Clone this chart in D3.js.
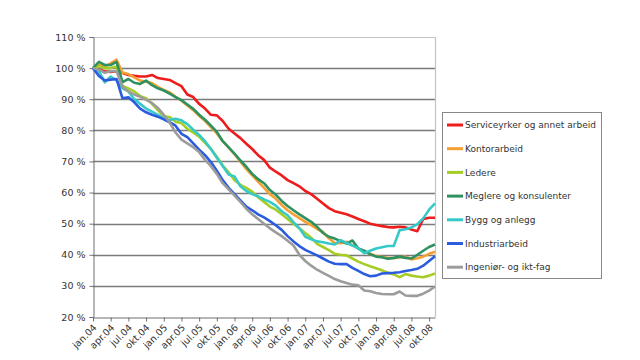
<!DOCTYPE html>
<html><head><meta charset="utf-8">
<script src="https://cdn.jsdelivr.net/npm/d3@7"></script>
<style>
html,body{margin:0;padding:0;background:#fff;}
svg{display:block;font-family:"DejaVu Sans",Verdana,sans-serif;}
</style></head>
<body><svg id="c" width="640" height="360"></svg>
<script>
const categories = [
"jan.04","feb.04","mar.04","apr.04","mai.04","jun.04","jul.04","aug.04","sep.04","okt.04","nov.04","des.04",
"jan.05","feb.05","mar.05","apr.05","mai.05","jun.05","jul.05","aug.05","sep.05","okt.05","nov.05","des.05",
"jan.06","feb.06","mar.06","apr.06","mai.06","jun.06","jul.06","aug.06","sep.06","okt.06","nov.06","des.06",
"jan.07","feb.07","mar.07","apr.07","mai.07","jun.07","jul.07","aug.07","sep.07","okt.07","nov.07","des.07",
"jan.08","feb.08","mar.08","apr.08","mai.08","jun.08","jul.08","aug.08","sep.08","okt.08","nov.08"];

const yTicks = [20,30,40,50,60,70,80,90,100,110];

const seriesNames = ["Serviceyrker og annet arbeid","Kontorarbeid","Ledere","Meglere og konsulenter","Bygg og anlegg","Industriarbeid","Ingeniør- og ikt-fag"];

const service = [100,99.5,99,98.8,99,98.4,97.8,97.5,97.3,97.3,97.8,96.8,96.5,96.2,95.2,94.2,91.5,90.7,88.5,87,85,84.8,83,80.5,79,77.5,75.7,74,72,70.5,68,66.7,65.5,64,63,62,60.5,59.5,58,56.5,55,54,53.5,53,52.3,51.5,50.8,50,49.6,49.2,48.9,48.8,49,48.8,48.1,47.6,51.5,51.9,51.9];
const kontor = [100,101,100.5,101.5,102.7,98.6,98.1,97,96,95.6,95.2,94,93,92.2,90.8,89.5,88,86.5,84.7,83,81,79,76.5,74.5,72.3,70,67.5,65.5,63.5,61.5,59.5,58,56,54.3,53,51.8,50.6,49.5,48.3,47.4,45.3,43.8,43.7,44.2,43,42,41,40.3,39.6,39.3,39,38.9,39.2,39.4,38.5,38.9,39.4,40.3,41];
const ledere = [100,100.5,100,100,100.5,94.3,93.5,92.5,91,90.3,88.5,86.5,84.5,84.3,82.8,82.3,80.5,79.3,78,76,74,71.5,68.7,66.5,64,62.5,61.5,60.3,58.5,57,55.5,54.5,53,51.5,50,48.5,47,45.5,43.5,42.5,41.5,40.3,40,39.8,38.8,37.8,37,36.3,35.7,35,34.2,33.7,32.8,33.8,33.3,33,32.8,33.3,34];
const meglere = [100,102,101,101,102,95.5,96.5,95.3,94.9,96,94.5,93.5,92.8,91.8,90.7,89.7,88.3,86.9,85,83.4,81.5,79.5,76.5,74.5,72.5,70.3,68.3,66,64.3,63,60.8,59.3,57.3,55.7,54.3,53,51.8,50.6,49,47,45.8,45.2,44.4,43.6,44.6,42,41.3,40.2,39.4,39.2,38.7,39,39.4,39,38.8,40,41.3,42.5,43.3];
const bygg = [100,99,95.4,97.3,96,93.5,92.5,90,88.5,87,86,85,83.8,83.3,83.7,83.2,82,80.2,78.5,76.5,74,71.2,68.5,65.8,65.2,62,60.5,59.5,58.8,57.8,57,55.8,54,52.7,50.5,48.5,45.8,45,44.3,44,43.6,43.3,44.7,43.8,43,42.1,40.5,41.3,42,42.4,42.8,42.8,47.9,48.2,48.8,49.8,51.7,54.5,56.5];
const industri = [100,97.5,96,96.3,96.5,90.3,90.6,89,87,85.8,85,84.4,83.5,82.6,81.5,78.9,77.8,75.8,73.8,72,69.8,67,64,61.5,59.5,57.5,55.5,54.3,53,52,50.8,49.5,48,46,44.3,42.8,41.6,40.7,39.8,38.8,37.8,37.1,37,37,35.8,34.8,33.8,33.1,33.3,34,34.1,34.2,34.4,34.8,35.1,35.5,36.5,38,39.5];
const ingenior = [100,99.5,98.5,99,99,94,92.5,91.5,90.8,89.8,88.8,87.2,85,82.5,79.3,77,75.8,74.6,73,70.5,68.5,66,63,61,59,57,54.8,53,51.5,50,48.5,47.2,46,44.5,43,40,38,36.5,35.2,34.2,33.2,32.2,31.5,30.9,30.4,30.2,28.5,28.3,27.7,27.4,27.3,27.3,28.2,26.9,26.8,26.8,27.5,28.5,29.8];

const seriesValues = [service,kontor,ledere,meglere,bygg,industri,ingenior];
const colors = ["#ee1c1c","#f6a033","#a6cc26","#2e9160","#36c9c9","#2b5ce0","#9c9c9c"];

const svg = d3.select("#c");
const L = 93, R = 435, T = 37, B = 317;
const x = d3.scalePoint().domain(categories).range([L, R]);
const y = d3.scaleLinear().domain([20,110]).range([B, T]);

// gridlines
svg.append("g").selectAll("line").data(yTicks.filter(d=>d>20 && d<110)).join("line")
  .attr("x1", L).attr("x2", R).attr("y1", d=>Math.round(y(d))+0.5).attr("y2", d=>Math.round(y(d))+0.5)
  .attr("stroke", "#7a7a7a").attr("stroke-width", 1.3);
// plot border top/right
svg.append("path").attr("d", `M${L},${Math.round(y(110))+0.5}H${R+0.5}V${B}`)
  .attr("fill","none").attr("stroke","#c4c4c4").attr("stroke-width",1.2);

// axes
const yAxis = d3.axisLeft(y).tickValues(yTicks).tickFormat(d => d + " %").tickSize(4).tickPadding(4);
const gy = svg.append("g").attr("transform", `translate(${L+0.5},0)`).call(yAxis);
gy.selectAll("path,line").attr("stroke", "#6f6f6f");
gy.selectAll("text").attr("font-size", 9.5).attr("fill", "#333").attr("font-family","DejaVu Sans, Verdana, sans-serif");

const xAxis = d3.axisBottom(x).tickValues(categories.filter((d,i)=>i%3===0)).tickSize(4).tickSizeOuter(0);
const gx = svg.append("g").attr("transform", `translate(0,${Math.round(B)+0.5})`).call(xAxis);
gx.selectAll("path,line").attr("stroke", "#6f6f6f");
gx.selectAll("text").attr("font-size", 9.5).attr("fill", "#333").attr("font-family","DejaVu Sans, Verdana, sans-serif")
  .attr("text-anchor","end").attr("transform","rotate(-45)").attr("dx","-0.3em").attr("dy","0.45em").attr("y", 6).attr("x",-2);

// lines
const line = d3.line().x((d,i)=>x(categories[i])).y(d=>y(d));
seriesValues.forEach((vals, k) => {
  svg.append("path").datum(vals).attr("d", line).attr("fill","none")
    .attr("stroke", colors[k]).attr("stroke-width", 2.6).attr("stroke-linejoin","round");
});

// legend
const lg = svg.append("g");
lg.append("rect").attr("x", 442.5).attr("y", 112.5).attr("width", 159).attr("height", 166)
  .attr("fill","#fff").attr("stroke","#888").attr("stroke-width",1);
seriesNames.forEach((n,k) => {
  const yy = 125 + k*23.7;
  lg.append("line").attr("x1",447).attr("x2",463).attr("y1",yy).attr("y2",yy).attr("stroke",colors[k]).attr("stroke-width",3);
  lg.append("text").attr("x",465).attr("y",yy).attr("dy","0.35em").attr("font-size",9).attr("fill","#333").text(n);
});
</script></body></html>
